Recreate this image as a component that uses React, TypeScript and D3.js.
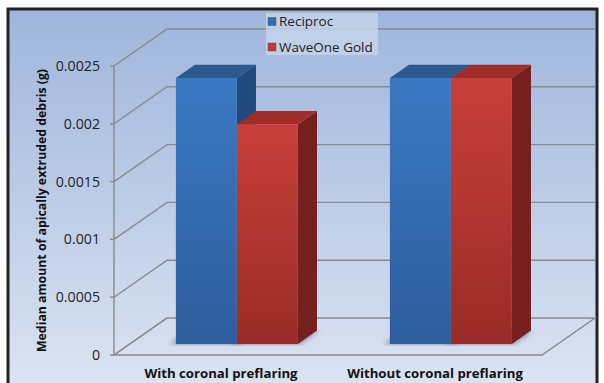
import { useEffect, useRef } from "react";
import * as d3 from "d3";

const categories = ["With coronal preflaring", "Without coronal preflaring"];
const seriesNames = ["Reciproc", "WaveOne Gold"];
const reciproc = [0.0023, 0.0023];
const waveOneGold = [0.0019, 0.0023];
const yTicks = [0, 0.0005, 0.001, 0.0015, 0.002, 0.0025];
const yTickLabels = ["0", "0.0005", "0.001", "0.0015", "0.002", "0.0025"];

const W = 604;
const H = 383;
const FONT = "'Open Sans', sans-serif";

export default function App() {
  const svgRef = useRef<SVGSVGElement | null>(null);

  useEffect(() => {
    const svg = d3.select(svgRef.current);
    svg.selectAll("*").remove();

    // front plane of the 3d box
    const left = 114, right = 542, bottom = 355, top = 66;
    const depthX = 53, depthY = -37;
    const proj = (x: number, y: number, d: number): [number, number] => [x + depthX * d, y + depthY * d];

    const x0 = d3.scaleBand().domain(categories).range([left, right]);
    const x1 = d3.scaleBand().domain(seriesNames).range([0, x0.bandwidth()]).paddingOuter(0.754);
    const y = d3.scaleLinear().domain([0, 0.0025]).range([bottom, top]);

    const defs = svg.append("defs");
    const bg = defs.append("linearGradient").attr("id", "bg").attr("x1", 0).attr("y1", 0).attr("x2", 0).attr("y2", 1);
    bg.append("stop").attr("offset", "0%").attr("stop-color", "#9fb5dc");
    bg.append("stop").attr("offset", "100%").attr("stop-color", "#dbe4f2");

    const grads: Record<string, [string, string]> = {
      blueFront: ["#3a79c3", "#2d5d9c"],
      redFront: ["#c83f3a", "#9a2b28"],
    };
    Object.entries(grads).forEach(([id, [c1, c2]]) => {
      const g = defs.append("linearGradient").attr("id", id).attr("x1", 0).attr("y1", 0).attr("x2", 0).attr("y2", 1);
      g.append("stop").attr("offset", "0%").attr("stop-color", c1);
      g.append("stop").attr("offset", "100%").attr("stop-color", c2);
    });
    defs.append("filter").attr("id", "blur").append("feGaussianBlur").attr("stdDeviation", 2.5);

    // frame + background
    svg.append("rect").attr("x", 8).attr("y", 9).attr("width", 589).attr("height", 380)
      .attr("fill", "url(#bg)").attr("stroke", "#222").attr("stroke-width", 3);

    const line = d3.line();
    const grid = svg.append("g").attr("fill", "none").attr("stroke", "#8a8a8a").attr("stroke-width", 1.4);

    // floor
    const floor = [proj(left, bottom, 0), proj(right, bottom, 0), proj(right, bottom, 1), proj(left, bottom, 1)];
    grid.append("path").attr("d", line(floor) + "Z").attr("fill", "#d4def0").attr("fill-opacity", 0.4);

    // gridlines on side wall and back wall
    yTicks.forEach(t => {
      const yy = y(t);
      const pts = [proj(left, yy, 0), proj(left, yy, 1), [right + depthX, yy + depthY] as [number, number]];
      if (t === 0) pts.pop();
      grid.append("path").attr("d", line(pts));
    });

    // front axis
    grid.append("path").attr("d", line([[left, y(0)], [left, y(0.0025)]]));
    yTicks.forEach(t => {
      grid.append("path").attr("d", line([[left - 4, y(t)], [left, y(t)]]));
    });

    svg.append("g").selectAll("text").data(yTicks).join("text")
      .attr("x", 100).attr("y", d => y(d)).attr("dy", "0.35em")
      .attr("text-anchor", "end").attr("font-family", FONT).attr("font-size", 14.2)
      .attr("fill", "#222").text((d, i) => yTickLabels[i]);

    // bars
    const dFront = 0.3, dBack = 0.66;
    const colors: Record<string, { front: string; top: string; side: string }> = {
      "Reciproc": { front: "url(#blueFront)", top: "#2b5a8e", side: "#1f4a7b" },
      "WaveOne Gold": { front: "url(#redFront)", top: "#a02d2a", side: "#76201e" },
    };
    const bars: { cat: string; s: string; v: number }[] = [];
    categories.forEach((c, i) => {
      bars.push({ cat: c, s: seriesNames[0], v: reciproc[i] });
      bars.push({ cat: c, s: seriesNames[1], v: waveOneGold[i] });
    });

    const barG = svg.append("g");
    // shadows
    bars.forEach(b => {
      const bx0 = (x0(b.cat) as number) + (x1(b.s) as number);
      const bx1 = bx0 + x1.bandwidth();
      const sh = [proj(bx0 - 6, bottom, dFront), proj(bx1 + 2, bottom, dFront), proj(bx1 + 2, bottom, dBack), proj(bx0 - 6, bottom, dBack)];
      barG.append("path").attr("d", line(sh) + "Z").attr("fill", "#333").attr("opacity", 0.45).attr("filter", "url(#blur)");
    });
    bars.forEach(b => {
      const bx0 = (x0(b.cat) as number) + (x1(b.s) as number);
      const bx1 = bx0 + x1.bandwidth();
      const yv = y(b.v);
      const c = colors[b.s];
      const side = [proj(bx1, yv, dFront), proj(bx1, yv, dBack), proj(bx1, bottom, dBack), proj(bx1, bottom, dFront)];
      const topF = [proj(bx0, yv, dFront), proj(bx1, yv, dFront), proj(bx1, yv, dBack), proj(bx0, yv, dBack)];
      const front = [proj(bx0, yv, dFront), proj(bx1, yv, dFront), proj(bx1, bottom, dFront), proj(bx0, bottom, dFront)];
      barG.append("path").attr("d", line(side) + "Z").attr("fill", c.side);
      barG.append("path").attr("d", line(topF) + "Z").attr("fill", c.top);
      barG.append("path").attr("d", line(front) + "Z").attr("fill", c.front);
    });

    // category labels
    svg.append("g").selectAll("text").data(categories).join("text")
      .attr("x", d => (x0(d) as number) + x0.bandwidth() / 2).attr("y", 378)
      .attr("text-anchor", "middle").attr("font-family", FONT).attr("font-weight", "bold")
      .attr("font-size", 13.2).attr("fill", "#111").text(d => d);

    // y axis title
    svg.append("text").attr("transform", `translate(46,${(top + bottom) / 2}) rotate(-90)`)
      .attr("text-anchor", "middle").attr("font-family", FONT).attr("font-weight", "bold")
      .attr("font-size", 12.3).attr("fill", "#111").text("Median amount of apically extruded debris (g)");

    // legend
    const lg = svg.append("g");
    lg.append("rect").attr("x", 266).attr("y", 13).attr("width", 112).attr("height", 42).attr("fill", "#c6d4ea").attr("opacity", 0.85);
    const legendColors = ["#2f6db5", "#c23834"];
    seriesNames.forEach((s, i) => {
      const yy = 21.5 + i * 25.5;
      lg.append("rect").attr("x", 268).attr("y", yy - 4).attr("width", 8).attr("height", 8).attr("fill", legendColors[i]).attr("stroke", "#555").attr("stroke-width", 0.5);
      lg.append("text").attr("x", 279).attr("y", yy).attr("dy", "0.35em").attr("font-family", FONT)
        .attr("font-size", 13.5).attr("fill", "#222").text(s);
    });
  }, []);

  return (
    <svg ref={svgRef} width={W} height={H} style={{ position: "absolute", left: 0, top: 0 }} />
  );
}
